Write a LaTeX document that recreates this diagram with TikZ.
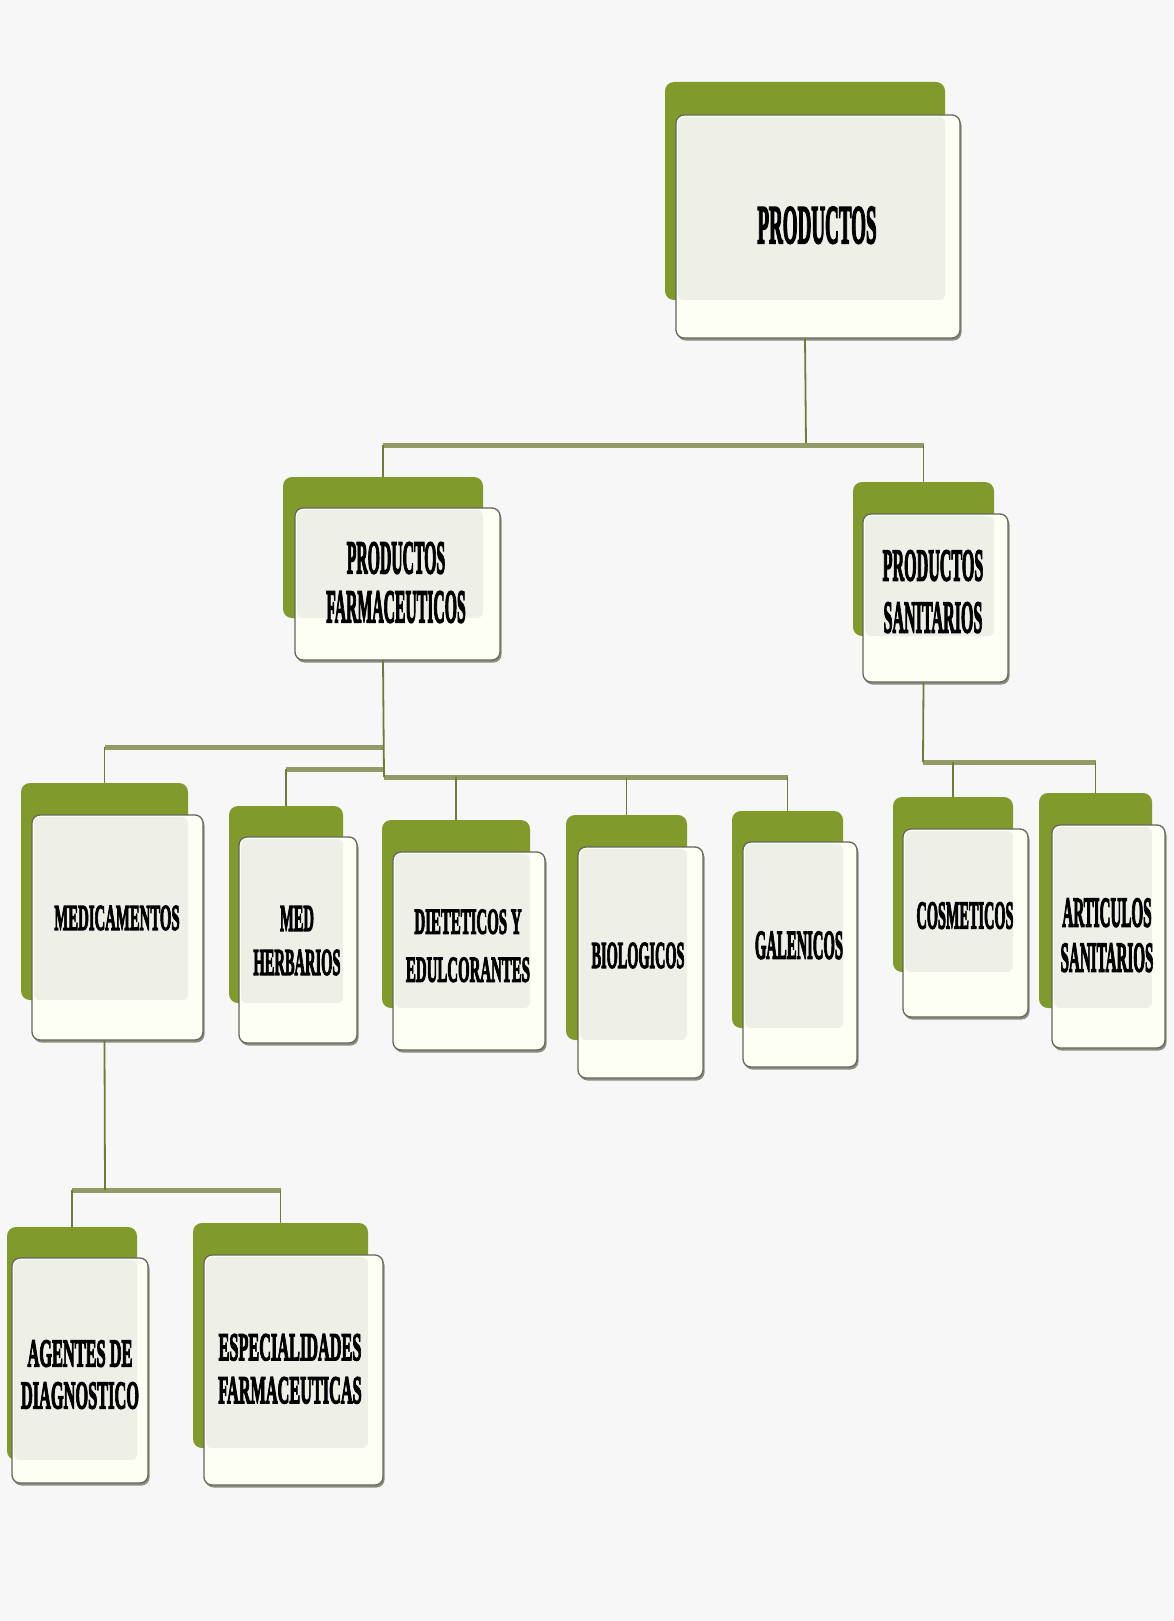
\documentclass[tikz,border=0pt]{standalone}
\usepackage{fontspec}
\setmainfont{Liberation Serif}[BoldFeatures={FakeBold=4}]
\usepackage{graphicx}
\definecolor{bgC}{HTML}{F6F7F6}
\definecolor{greenC}{HTML}{819A2C}
\definecolor{creamC}{HTML}{FDFEF4}
\definecolor{innerC}{HTML}{EEF0E7}
\definecolor{frameC}{HTML}{66665A}
\definecolor{shadowC}{HTML}{8C8C80}
\definecolor{lineC}{HTML}{6F7C38}
\definecolor{barC}{HTML}{939A66}
\tikzset{
  greenbox/.style={fill=greenC, rounded corners=9pt, inner sep=0pt, outer sep=0pt},
  frontbox/.style={draw=frameC, line width=1.3pt, fill=creamC, rounded corners=8pt, inner sep=0pt, outer sep=0pt},
  innerfill/.style={fill=innerC, rounded corners=6pt},
  vline/.style={draw=lineC, line width=1.8pt},
  hbar/.style={draw=barC, line width=5pt},
  lab/.style={inner sep=0pt, font=\bfseries, text=black},
}
% #1 name, #2-#5 green box, #6-#9 front box
\newcommand\orgbox[9]{%
  \node[greenbox, minimum width={(#4-#2)*1pt}, minimum height={(#5-#3)*1pt}] (g#1) at ({(#2+#4)/2},{(#3+#5)/2}) {};
  \fill[shadowC, rounded corners=8pt] ({#6+1.5},{#7+2.5}) rectangle ({#8+1.5},{#9+2.5});
  \node[frontbox, minimum width={(#8-#6)*1pt}, minimum height={(#9-#7)*1pt}] (f#1) at ({(#6+#8)/2},{(#7+#9)/2}) {};
  \fill[innerfill] ({#6+2},{#7+2}) rectangle ({min(#4,#8-2)},{#5});
}
\newcommand\lbl[4]{\scalebox{#1}[1]{\fontsize{#2}{#3}\selectfont\begin{tabular}{@{}c@{}}#4\end{tabular}}}
\begin{document}
\begin{tikzpicture}[x=1pt,y=-1pt]
\fill[bgC] (0,0) rectangle (1173,1621);
\useasboundingbox (0,0) rectangle (1173,1621);

% boxes
\orgbox{0}{665}{82}{945}{300}{676}{115}{960}{338}
\orgbox{1}{283}{477}{483}{618}{295}{508}{500}{660}
\orgbox{2}{853}{482}{994}{636}{863}{514}{1008}{682}
\orgbox{3}{21}{783}{188}{1000}{32}{815}{203}{1040}
\orgbox{4}{229}{806}{343}{1003}{239}{837}{357}{1043}
\orgbox{5}{382}{820}{530}{1008}{393}{852}{545}{1050}
\orgbox{6}{566}{815}{687}{1040}{578}{847}{703}{1078}
\orgbox{7}{732}{811}{843}{1028}{743}{842}{857}{1067}
\orgbox{8}{893}{797}{1013}{972}{903}{829}{1028}{1017}
\orgbox{9}{1039}{793}{1152}{1008}{1052}{825}{1165}{1048}
\orgbox{10}{7}{1227}{137}{1460}{12}{1258}{148}{1483}
\orgbox{11}{193}{1223}{368}{1448}{204}{1255}{383}{1485}

% labels
\node[lab] (t0) at (817,231) {\lbl{0.35}{54.4}{60}{PRODUCTOS}};
\node[lab] (t1) at (396,588) {\lbl{0.336}{46.8}{49}{PRODUCTOS\\FARMACEUTICOS}};
\node[lab] (t2) at (933,596) {\lbl{0.355}{45.3}{52}{PRODUCTOS\\SANITARIOS}};
\node[lab] (t3) at (117,921) {\lbl{0.407}{36.3}{44}{MEDICAMENTOS}};
\node[lab] (t4) at (297,944) {\lbl{0.384}{37.8}{44}{MED\\HERBARIOS}};
\node[lab] (t5) at (468,948) {\lbl{0.41}{36.3}{48}{DIETETICOS Y\\EDULCORANTES}};
\node[lab] (t6) at (638,959) {\lbl{0.378}{37.8}{44}{BIOLOGICOS}};
\node[lab] (t7) at (799,949) {\lbl{0.36}{40.8}{48}{GALENICOS}};
\node[lab] (t8) at (965,919) {\lbl{0.364}{39.3}{47}{COSMETICOS}};
\node[lab] (t9) at (1107,940) {\lbl{0.357}{42.3}{45}{ARTICULOS\\SANITARIOS}};
\node[lab] (t10) at (80,1379) {\lbl{0.416}{39.3}{42}{AGENTES DE\\DIAGNOSTICO}};
\node[lab] (t11) at (290,1373) {\lbl{0.414}{39.3}{43}{ESPECIALIDADES\\FARMACEUTICAS}};

% connectors level 1
\coordinate (r0) at (806,445);
\draw[vline] (f0.south -| g0.south) -- (r0);
\draw[hbar] (r0 -| g1.north) -- (r0 -| g2.north);
\draw[vline] (r0 -| g1.north) -- (g1.north);
\draw[vline] (r0 -| g2.north) -- (g2.north);

% connectors from PRODUCTOS FARMACEUTICOS
\coordinate (r1a) at (384,747);
\coordinate (r1b) at (384,769);
\coordinate (r1c) at (384,777);
\draw[hbar] (r1a) -- (r1a -| g3.north);
\draw[hbar] (r1b) -- (r1b -| g4.north);
\draw[hbar] (r1c) -- (r1c -| g7.north);
\draw[vline] (f1.south -| g1.south) -- (r1c);
\draw[vline] (r1a -| g3.north) -- (g3.north);
\draw[vline] (r1b -| g4.north) -- (g4.north);
\draw[vline] (r1c -| g5.north) -- (g5.north);
\draw[vline] (r1c -| g6.north) -- (g6.north);
\draw[vline] (r1c -| g7.north) -- (g7.north);

% connectors from PRODUCTOS SANITARIOS
\coordinate (r2) at (923,762);
\draw[hbar] (r2) -- (r2 -| g9.north);
\draw[vline] (f2.south -| g2.south) -- (r2);
\draw[vline] (r2 -| g8.north) -- (g8.north);
\draw[vline] (r2 -| g9.north) -- (g9.north);

% connectors from MEDICAMENTOS
\coordinate (r3) at (105,1190);
\draw[hbar] (r3 -| g10.north) -- (r3 -| g11.north);
\draw[vline] (f3.south -| g3.south) -- (r3);
\draw[vline] (r3 -| g10.north) -- (g10.north);
\draw[vline] (r3 -| g11.north) -- (g11.north);
\end{tikzpicture}
\end{document}
